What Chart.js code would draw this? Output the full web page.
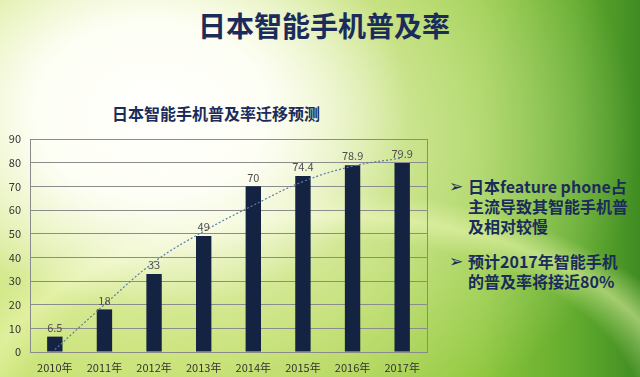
<!DOCTYPE html>
<html>
<head>
<meta charset="utf-8">
<script src="https://cdn.jsdelivr.net/npm/chart.js@4"></script>
<style>
  html, body { margin: 0; padding: 0; }
  body {
    width: 640px; height: 377px; overflow: hidden; position: relative;
    font-family: "Noto Sans CJK SC", sans-serif;
    background:
      radial-gradient(ellipse 260px 200px at 150px 110px, rgba(255,255,253,1) 0%, rgba(255,255,248,0.95) 45%, rgba(252,253,235,0) 100%),
      radial-gradient(ellipse 430px 330px at 210px 140px, rgba(250,252,228,0.85) 0%, rgba(238,246,196,0.45) 60%, rgba(230,242,180,0) 100%),
      radial-gradient(ellipse 520px 300px at 330px 420px, rgba(220,240,130,0) 60%, rgba(235,248,170,0.55) 68%, rgba(220,240,130,0) 76%),
      linear-gradient(to right, #c4e06a 0%, #b6d852 30%, #a6d044 55%, #8cc63a 75%, #62ab2e 90%, #3f8c22 100%);
  }
  #title {
    position: absolute; left: 0; width: 648px; top: 5px; text-align: center;
    font-size: 28px; font-weight: bold; color: #1b2c5a;
  }
  #subtitle {
    position: absolute; left: 112px; top: 101px;
    font-size: 16px; font-weight: bold; color: #1b2c5a;
  }
  #wrap { position: absolute; left: 0; top: 120px; width: 440px; height: 257px; }
  #notes {
    position: absolute; left: 448px; top: 176px; width: 192px;
    font-size: 16px; font-weight: bold; color: #1b2c5a; line-height: 20px;
  }
  #notes div { position: relative; padding-left: 20px; margin-bottom: 15px; white-space: nowrap; }
  #notes div span { position: absolute; left: 1px; top: -1px; font-size: 17px; font-weight: normal; }
</style>
</head>
<body>
<div id="title">日本智能手机普及率</div>
<div id="subtitle">日本智能手机普及率迁移预测</div>
<div id="wrap"><canvas id="chart"></canvas></div>
<div id="notes">
  <div><span>➢</span>日本feature phone占<br>主流导致其智能手机普<br>及相对较慢</div>
  <div><span>➢</span>预计2017年智能手机<br>的普及率将接近80%</div>
</div>
<script>
const years = ['2010年', '2011年', '2012年', '2013年', '2014年', '2015年', '2016年', '2017年'];
const rates = [6.5, 18, 33, 49, 70, 74.4, 78.9, 79.9];
// dotted trend line
const trend = [1, 20, 38, 51, 62, 72, 78.5, 82];
const yTicks = [0, 10, 20, 30, 40, 50, 60, 70, 80, 90];

// value labels above the bars
const barLabels = {
    id: 'barLabels',
    afterDatasetsDraw(chart) {
        const ctx = chart.ctx;
        const meta = chart.getDatasetMeta(1);
        ctx.save();
        ctx.font = '11px "Noto Sans CJK SC", sans-serif';
        ctx.fillStyle = '#4f4f4f';
        ctx.textAlign = 'center';
        ctx.textBaseline = 'middle';
        meta.data.forEach((bar, i) => {
            ctx.fillText(String(rates[i]), bar.x, bar.y - 9);
        });
        ctx.restore();
    }
};

new Chart(document.getElementById('chart'), {
    type: 'bar',
    data: {
        labels: years,
        datasets: [{
            type: 'line',
            data: trend,
            borderColor: '#5b7ca8',
            borderWidth: 1.2,
            borderDash: [2, 2],
            pointRadius: 0,
            fill: false,
            tension: 0.4,
            order: 0
        }, {
            type: 'bar',
            data: rates,
            backgroundColor: '#132341',
            categoryPercentage: 1,
            barPercentage: 0.31,
            order: 1
        }]
    },
    options: {
        responsive: true,
        maintainAspectRatio: false,
        animation: false,
        layout: { padding: { top: 19, right: 13, left: 0, bottom: 0 } },
        plugins: { legend: { display: false }, tooltip: { enabled: false } },
        scales: {
            x: {
                grid: { display: false, drawTicks: false },
                border: { color: '#8a8a8a' },
                ticks: { padding: 9, color: '#333', font: { size: 11, family: '"Noto Sans CJK SC", sans-serif' } },
                afterFit(scale) { scale.height = 25; }
            },
            y: {
                min: 0, max: 90,
                afterBuildTicks(scale) { scale.ticks = yTicks.map(v => ({ value: v })); },
                grid: { color: '#8c8c8c', drawTicks: false },
                border: { color: '#8a8a8a' },
                ticks: { padding: 9, color: '#333', font: { size: 11, family: '"Noto Sans CJK SC", sans-serif' } },
                afterFit(scale) { scale.width = 30; }
            },
            y2: {
                position: 'right', min: 0, max: 90,
                grid: { display: false, drawTicks: false },
                border: { color: '#8a8a8a' },
                ticks: { display: false },
                afterFit(scale) { scale.width = 0; }
            }
        }
    },
    plugins: [barLabels]
});
</script>
</body>
</html>
